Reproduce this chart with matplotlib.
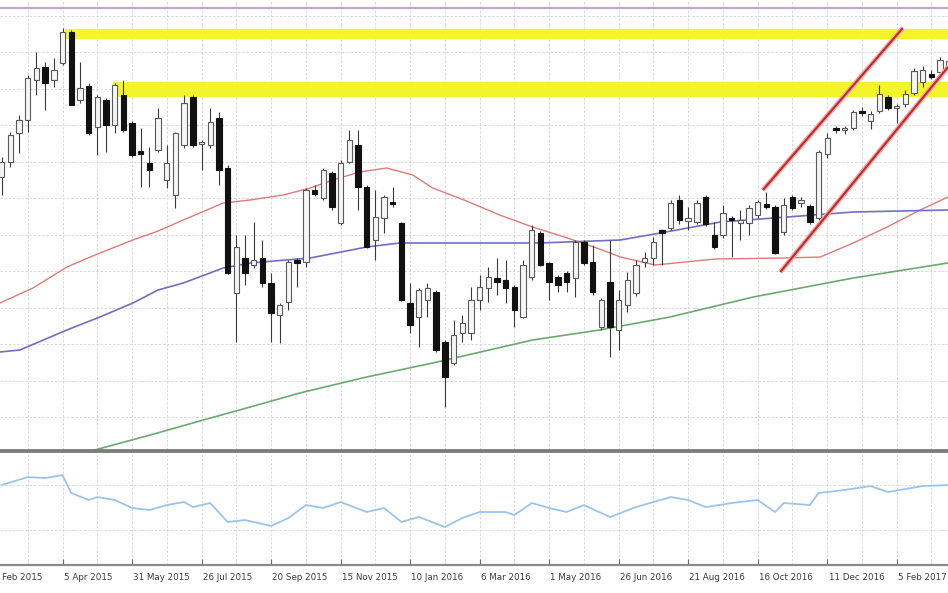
import matplotlib
matplotlib.use('Agg')
import matplotlib.pyplot as plt
from matplotlib.lines import Line2D
from matplotlib.transforms import blended_transform_factory
import numpy as np

# weekly candles, week 0 = 8 Feb 2015
weeks = list(range(1, 111))
opens = [10930, 11080, 11370, 11500, 11900, 12030, 11900, 12070, 12380, 11700,
         11840, 11430, 11700, 11450, 11750, 11470, 11190, 11070, 11200, 10900,
         10750, 11250, 11730, 11260, 11250, 11520, 11020, 9770, 10120, 10050,
         10120, 9870, 9550, 9680, 10100, 10080, 10800, 10720, 10970, 10470,
         11080, 11250, 10830, 10300, 10520, 10680, 10470, 9670, 9530, 9700,
         9780, 9280, 9070, 9370, 9370, 9700, 9820, 9920, 9900, 9830,
         9530, 9930, 10370, 10070, 9930, 9970, 9920, 10280, 10080, 9430,
         9880, 9400, 9650, 9770, 10080, 10120, 10400, 10420, 10700, 10490,
         10480, 10730, 10350, 10350, 10520, 10470, 10470, 10550, 10660, 10630,
         10380, 10730, 10670, 10640, 10520, 11160, 11420, 11400, 11420, 11590,
         11490, 11590, 11730, 11620, 11660, 11770, 11880, 11960, 11980, 12000]
highs = [11130, 11380, 11550, 11950, 12180, 12080, 12120, 12420, 12400, 12080,
         11870, 11750, 11720, 11870, 11900, 11490, 11420, 11230, 11620, 11250,
         11380, 11750, 11750, 11300, 11620, 11580, 11050, 10350, 10350, 10480,
         10300, 9970, 9670, 10100, 10120, 10820, 10850, 11020, 10990, 11100,
         11400, 11400, 10850, 10800, 10750, 10830, 10480, 9870, 9820, 9870,
         9800, 9300, 9500, 9550, 9830, 9950, 10030, 10120, 10100, 9850,
         10100, 10450, 10390, 10080, 9950, 9990, 10300, 10300, 10250, 9720,
         10300, 9800, 9980, 10100, 10180, 10330, 10410, 10700, 10750, 10630,
         10700, 10750, 10480, 10650, 10540, 10600, 10650, 10700, 10780, 10650,
         10720, 10750, 10730, 10660, 11200, 11370, 11440, 11440, 11600, 11630,
         11590, 11850, 11750, 11660, 11800, 12020, 12040, 12000, 12130, 12120]
lows = [10750, 11030, 11170, 11380, 11750, 11600, 11830, 12050, 11650, 11670,
        11350, 11150, 11180, 11370, 11380, 11130, 10830, 10830, 11180, 10820,
        10620, 11220, 11230, 11000, 11220, 10850, 9960, 9280, 9850, 10020,
        9830, 9280, 9270, 9600, 9830, 10030, 10740, 10700, 10600, 10450,
        11070, 10600, 10220, 10100, 10370, 10630, 9690, 9370, 9230, 9530,
        9180, 8630, 9050, 9280, 9300, 9600, 9680, 9750, 9670, 9430,
        9520, 9900, 10040, 9700, 9780, 9780, 9730, 10050, 9750, 9400,
        9130, 9200, 9580, 9740, 10030, 10050, 10050, 10400, 10460, 10400,
        10460, 10440, 10210, 10320, 10130, 10300, 10350, 10520, 10610, 10160,
        10350, 10600, 10630, 10460, 10500, 11120, 11370, 11360, 11400, 11540,
        11410, 11570, 11600, 11470, 11630, 11750, 11830, 11910, 11960, 11980]
closes = [11080, 11350, 11500, 11920, 12020, 11870, 12000, 12380, 11650, 11820,
          11370, 11730, 11450, 11850, 11400, 11150, 11160, 11000, 11520, 11070,
          11370, 11670, 11250, 11280, 11480, 11000, 9970, 10230, 9970, 10100,
          9870, 9570, 9650, 10080, 10070, 10800, 10760, 11000, 10630, 11070,
          11300, 10830, 10230, 10530, 10730, 10660, 9700, 9450, 9800, 9820,
          9200, 8930, 9350, 9470, 9700, 9830, 9930, 9880, 9820, 9600,
          10050, 10400, 10050, 9880, 9850, 9880, 10280, 10070, 9780, 9700,
          9430, 9700, 9900, 10050, 10120, 10280, 10370, 10670, 10500, 10520,
          10670, 10460, 10230, 10570, 10500, 10500, 10620, 10680, 10630, 10170,
          10650, 10620, 10700, 10480, 11180, 11320, 11400, 11420, 11580, 11570,
          11560, 11760, 11620, 11640, 11760, 11990, 12000, 11930, 12100, 12090]

# moving averages (week, price)
ma_red_w = [0.8, 4.6, 8.5, 12.3, 16.1, 19.0, 21.9, 26.5, 29.6, 33.4, 36.5, 39.1,
            42.2, 45.3, 48.3, 50.6, 54.5, 58.3, 62.1, 66.1, 69.8, 72.2, 76.2,
            83.1, 91.1, 95.2, 99.0, 102.9, 106.7, 109.9]
ma_red = [9670, 9820, 10030, 10170, 10300, 10390, 10500, 10670, 10700, 10750,
          10820, 10900, 10980, 11020, 10950, 10820, 10690, 10550, 10430, 10320,
          10210, 10130, 10050, 10110, 10120, 10130, 10270, 10430, 10600, 10730]
ma_blue_w = [0.8, 3.1, 8.5, 12.3, 16.1, 19.0, 21.9, 26.5, 29.6, 36.5, 43.0,
             46.8, 53.7, 62.9, 72.2, 76.8, 83.7, 91.4, 99.0, 109.9]
ma_blue = [9180, 9200, 9400, 9530, 9670, 9800, 9870, 10020, 10070, 10120, 10230,
           10270, 10270, 10270, 10300, 10370, 10480, 10530, 10580, 10600]
ma_green_w = [7.7, 11.7, 18.1, 23.8, 29.6, 35.3, 43.0, 50.6, 62.1, 69.8, 77.9,
              87.5, 99.0, 109.9]
ma_green = [8080, 8200, 8350, 8490, 8630, 8770, 8930, 9070, 9300, 9400, 9530,
            9730, 9920, 10070]

# lower panel oscillator (week, value)
osc_w = [1, 4, 6, 8, 9, 11, 12, 14, 16, 18, 20, 22, 23, 25, 27, 29, 32, 34, 36,
         38, 40, 43, 45, 47, 49, 52, 54, 56, 59, 60, 62, 64, 66, 68, 71, 74, 76,
         78, 80, 82, 85, 88, 90, 91, 94, 95, 98, 101, 103, 107, 110]
osc = [70.0, 77.1, 76.2, 78.9, 62.9, 56.7, 59.3, 56.7, 49.6, 47.8, 52.2, 54.9,
       50.4, 54.0, 37.1, 38.9, 33.6, 40.7, 52.2, 49.6, 54.9, 46.0, 49.6, 37.1,
       41.6, 32.7, 40.7, 46.0, 46.0, 43.3, 54.0, 49.6, 46.0, 52.2, 41.6, 50.4,
       54.9, 59.3, 56.7, 50.4, 54.0, 56.7, 46.0, 54.0, 52.2, 62.9, 65.6, 69.1,
       63.8, 69.1, 70.0]

# resistance zones and trend channel
zones = [(8.3, 12310, 12410), (13.8, 11730, 11880)]
top_level = 12620
chan_upper = ([88.6, 104.7], [10800, 12420])
chan_lower = ([90.6, 109.9], [9980, 12030])

tick_weeks = [0, 8, 16, 24, 32, 40, 48, 56, 64, 72, 80, 88, 96, 104]
# first label (8 Feb 2015) is cut by the left edge in the original, only "Feb 2015" shows
tick_labels = ['Feb 2015', '5 Apr 2015', '31 May 2015', '26 Jul 2015',
               '20 Sep 2015', '15 Nov 2015', '10 Jan 2016', '6 Mar 2016',
               '1 May 2016', '26 Jun 2016', '21 Aug 2016', '16 Oct 2016',
               '11 Dec 2016', '5 Feb 2017']

W, H = 948, 593
fig = plt.figure(figsize=(W / 100, H / 100), dpi=100)
ax = fig.add_axes([0, 1 - 450 / H, 1, 450 / H])
ax2 = fig.add_axes([0, 1 - 565 / H, 1, 110 / H], sharex=ax)

xmin, xmax = 0.805, 109.9
grid_kw = dict(color='#d4d4d4', lw=0.6, ls=(0, (3, 2)), zorder=0)
for a in (ax, ax2):
    for g in range(4, 112, 4):
        a.axvline(g, **grid_kw)
for p in np.arange(8530, 12700, 365):
    ax.axhline(p, **grid_kw)
for v in (30, 70):
    ax2.axhline(v, **grid_kw)

# zones
for x0, lo, hi in zones:
    ax.fill_between([x0, xmax + 1], lo, hi, color='#f4f42a', lw=0, zorder=1)
ax.axhline(top_level, color='#b8adc9', lw=1.6, zorder=1)

# moving averages
ax.plot(ma_red_w, ma_red, color='#e07a7a', lw=1.0, zorder=2)
ax.plot(ma_blue_w, ma_blue, color='#6f6fc4', lw=1.2, zorder=2)
ax.plot(ma_green_w, ma_green, color='#6fa86f', lw=1.2, zorder=2)

# candles
o = np.array(opens)
c = np.array(closes)
up = c >= o
ax.vlines(weeks, lows, highs, color='#3a3a3a', lw=0.8, zorder=3)
bottom = np.minimum(o, c)
height = np.maximum(np.abs(c - o), 18)
ax.bar(np.array(weeks)[up], height[up], bottom=bottom[up], width=0.62,
       color='#f6f6f6', edgecolor='#5a5a5a', lw=0.8, zorder=4)
ax.bar(np.array(weeks)[~up], height[~up], bottom=bottom[~up], width=0.62,
       color='#111111', edgecolor='#111111', lw=0.8, zorder=4)

# trend channel
for xs, ys in (chan_upper, chan_lower):
    ax.plot(xs, ys, color='#f2a6a6', lw=3.4, zorder=5, solid_capstyle='butt')
    ax.plot(xs, ys, color='#c22a2a', lw=1.5, zorder=6, solid_capstyle='butt')

ax.set_xlim(xmin, xmax)
ax.set_ylim(8200, 12700)
ax.axis('off')

# lower panel
ax2.plot(osc_w, osc, color='#9cc4ea', lw=1.3, zorder=3)
ax2.set_ylim(-1.1, 96.7)
for s in ('top', 'left', 'right'):
    ax2.spines[s].set_visible(False)
ax2.spines['bottom'].set_color('#8a8a8a')
ax2.spines['bottom'].set_linewidth(1.6)
ax2.set_yticks([])
ax2.set_xticks(tick_weeks[1:])
ax2.tick_params(axis='x', direction='in', length=4, color='#6a6a6a',
                labelbottom=False)

fig.add_artist(Line2D([0, 1], [1 - 450.5 / H, 1 - 450.5 / H],
                      transform=fig.transFigure, color='#7e7e7e', lw=2.8))

trans = blended_transform_factory(ax2.transData, fig.transFigure)
for wk, lab in zip(tick_weeks, tick_labels):
    xpos = wk + 0.15 if wk > 0 else 1.0
    ax2.text(xpos, 1 - 577 / H, lab, transform=trans, ha='left',
             va='center', fontsize=6.3, color='#3c3c3c', clip_on=False)

fig.savefig('out.png', dpi=100)
